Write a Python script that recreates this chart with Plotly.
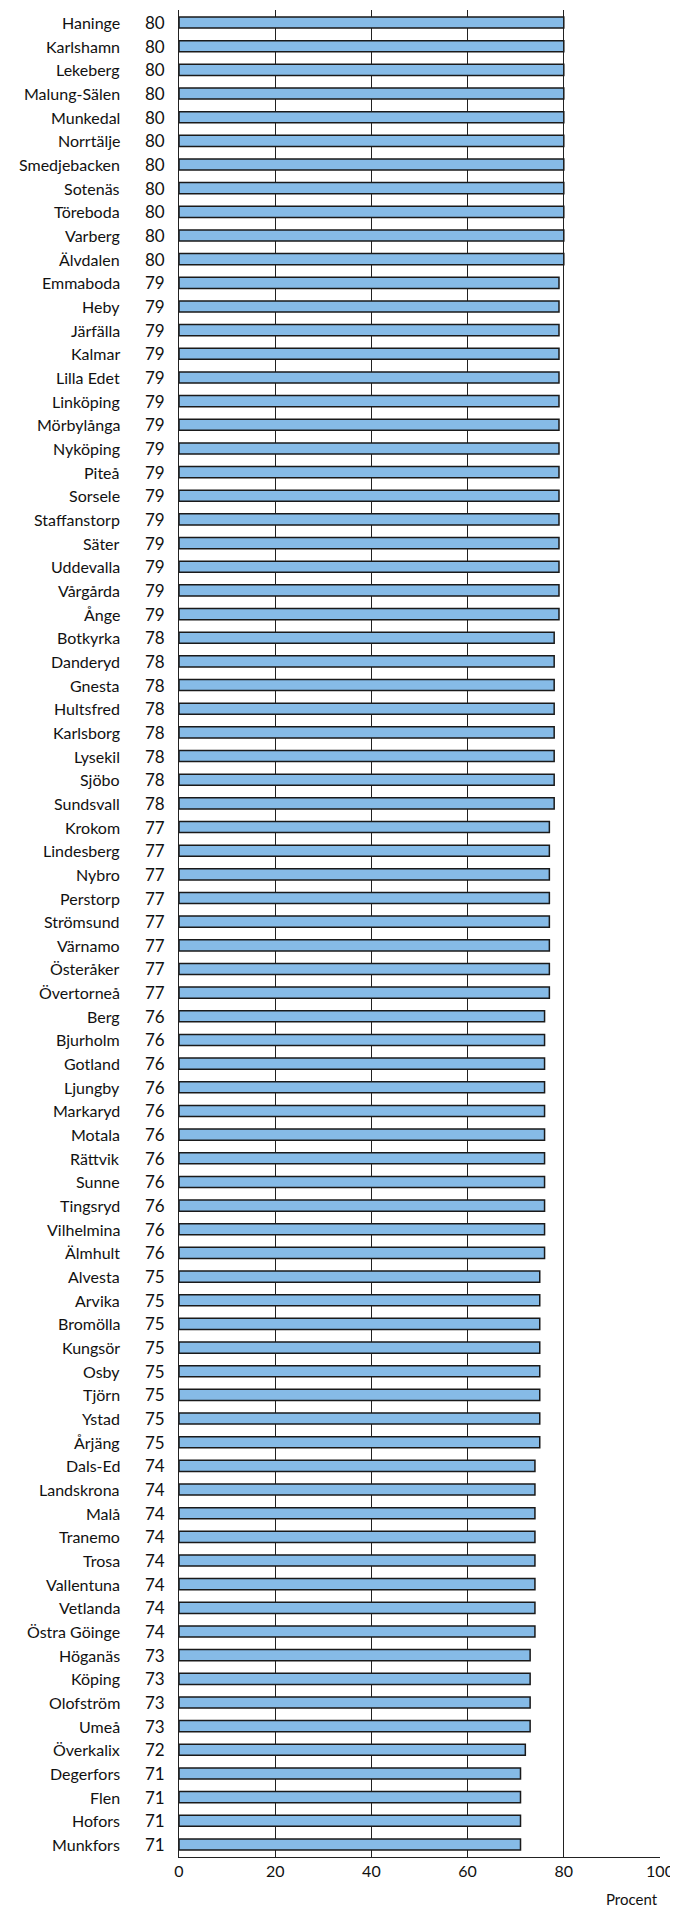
import plotly.graph_objects as go

kommuner = [
    "Haninge", "Karlshamn", "Lekeberg", "Malung-Sälen", "Munkedal", "Norrtälje",
    "Smedjebacken", "Sotenäs", "Töreboda", "Varberg", "Älvdalen",
    "Emmaboda", "Heby", "Järfälla", "Kalmar", "Lilla Edet", "Linköping",
    "Mörbylånga", "Nyköping", "Piteå", "Sorsele", "Staffanstorp", "Säter",
    "Uddevalla", "Vårgårda", "Ånge",
    "Botkyrka", "Danderyd", "Gnesta", "Hultsfred", "Karlsborg", "Lysekil",
    "Sjöbo", "Sundsvall",
    "Krokom", "Lindesberg", "Nybro", "Perstorp", "Strömsund", "Värnamo",
    "Österåker", "Övertorneå",
    "Berg", "Bjurholm", "Gotland", "Ljungby", "Markaryd", "Motala", "Rättvik",
    "Sunne", "Tingsryd", "Vilhelmina", "Älmhult",
    "Alvesta", "Arvika", "Bromölla", "Kungsör", "Osby", "Tjörn", "Ystad", "Årjäng",
    "Dals-Ed", "Landskrona", "Malå", "Tranemo", "Trosa", "Vallentuna", "Vetlanda",
    "Östra Göinge",
    "Höganäs", "Köping", "Olofström", "Umeå",
    "Överkalix",
    "Degerfors", "Flen", "Hofors", "Munkfors",
]
procent = (
    [80] * 11 + [79] * 15 + [78] * 8 + [77] * 8 + [76] * 11 + [75] * 8
    + [74] * 8 + [73] * 4 + [72] * 1 + [71] * 4
)
x_ticks = [0, 20, 40, 60, 80, 100]

FONT = "Lato"
# page body has an 8px margin, so the figure is a bit smaller than the window
W, H = 670, 1900
L, R, T, B = 171, 18, 2, 51
PW = W - L - R

fig = go.Figure()
fig.add_trace(go.Bar(
    y=kommuner, x=procent, orientation="h", width=0.47,
    marker=dict(color="#86bbe7", line=dict(color="#1a1a1a", width=1.5)),
    hoverinfo="x+y",
))

# name column and value column left of the axis
for k, v in zip(kommuner, procent):
    fig.add_annotation(
        x=-57 / PW, xref="paper", y=k, yref="y",
        text=k, showarrow=False, xanchor="right",
        font=dict(family=FONT, size=16, color="#111"),
    )
    fig.add_annotation(
        x=-12 / PW, xref="paper", y=k, yref="y",
        text=str(v), showarrow=False, xanchor="right",
        font=dict(family=FONT, size=17, color="#111"),
    )

fig.add_annotation(
    x=1, xref="paper", y=-42 / (H - T - B), yref="paper",
    text="Procent", showarrow=False, xanchor="right", yanchor="middle",
    font=dict(family=FONT, size=15, color="#111"),
)

fig.update_layout(
    width=W, height=H,
    margin=dict(l=L, r=R, t=T, b=B),
    plot_bgcolor="white", paper_bgcolor="white",
    showlegend=False,
    font=dict(family=FONT, size=16, color="#111"),
    xaxis=dict(
        range=[0, 100], tickvals=x_ticks, showgrid=True,
        gridcolor="#222", gridwidth=1, zeroline=False,
        showline=True, linecolor="#222", linewidth=1,
        ticks="", tickfont=dict(size=16),
    ),
    yaxis=dict(
        autorange=False, range=[len(kommuner) - 0.47, -0.53],
        showline=True, linecolor="#222", linewidth=1,
        ticks="", showticklabels=False,
    ),
)

fig.write_html("out.html")
